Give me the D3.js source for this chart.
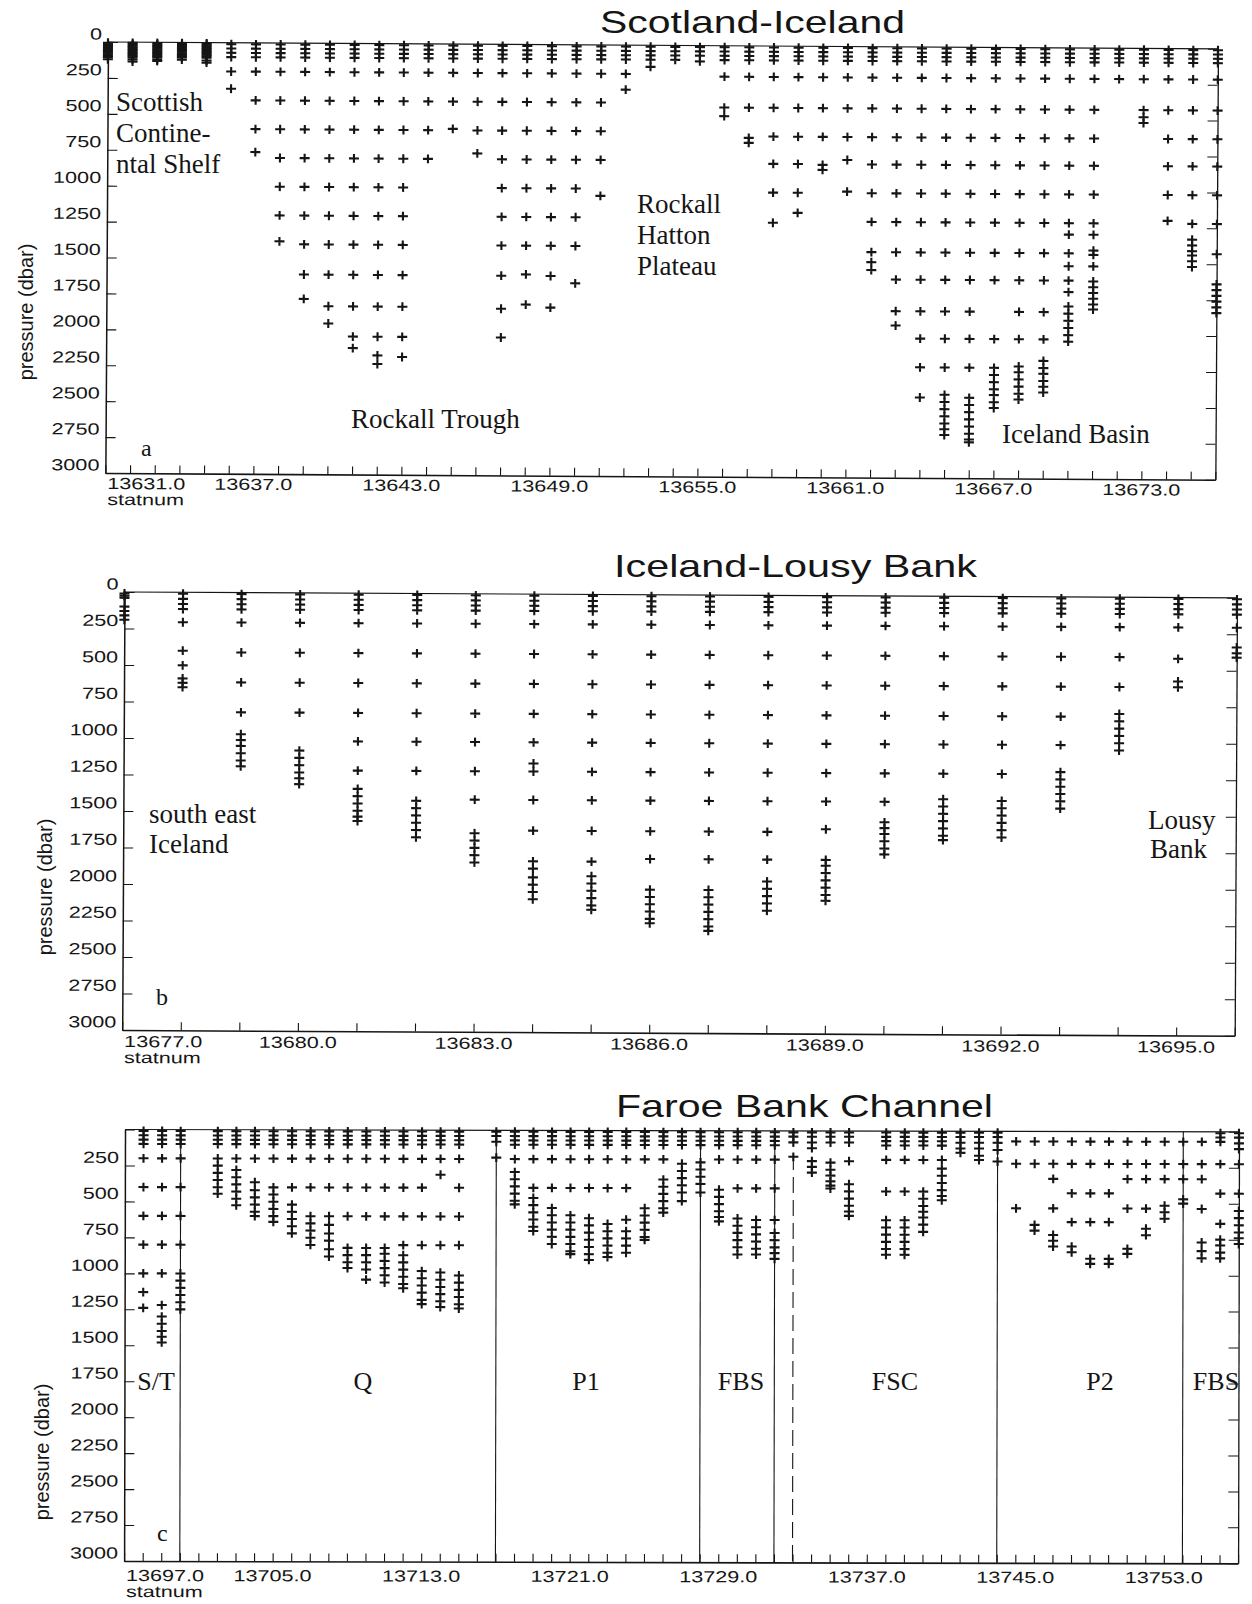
<!DOCTYPE html>
<html>
<head>
<meta charset="utf-8">
<script src="https://cdn.jsdelivr.net/npm/d3@7"></script>
<style>
body { margin: 0; background: #fff; }
.sans { font-family: "Liberation Sans", Arial, sans-serif; }
.serif { font-family: "Liberation Serif", "Times New Roman", serif; }
</style>
</head>
<body>
<svg id="chart" width="1252" height="1604"></svg>
<script>
// ---- data: station number and sampled pressures (dbar) per station ----
var pressureTicks = [0, 250, 500, 750, 1000, 1250, 1500, 1750, 2000, 2250, 2500, 2750, 3000];

// (a) Scotland-Iceland
var stationsA = [13631, 13632, 13633, 13634, 13635, 13636, 13637, 13638, 13639, 13640, 13641, 13642, 13643, 13644, 13645, 13646,
    13647, 13648, 13649, 13650, 13651, 13652, 13653, 13654, 13655, 13656, 13657, 13658, 13659, 13660, 13661, 13662,
    13663, 13664, 13665, 13666, 13667, 13668, 13669, 13670, 13671, 13672, 13673, 13674, 13675, 13676];
var pressuresA = [
    [5, 15, 25, 35, 45, 55, 65, 75, 85, 95, 105, 120],
    [5, 15, 25, 35, 45, 55, 65, 75, 85, 95, 105, 120, 135],
    [5, 15, 25, 35, 45, 55, 65, 75, 85, 95, 105, 120, 130],
    [5, 15, 25, 35, 45, 55, 65, 75, 85, 95, 105, 120],
    [5, 15, 25, 35, 45, 55, 65, 75, 85, 95, 105, 125, 140],
    [10, 40, 70, 100, 200, 320],
    [10, 40, 70, 100, 200, 400, 600, 760],
    [10, 40, 70, 100, 200, 400, 600, 800, 1000, 1200, 1380],
    [10, 40, 70, 100, 200, 400, 600, 800, 1000, 1200, 1400, 1610, 1780],
    [10, 40, 70, 100, 200, 400, 600, 800, 1000, 1200, 1400, 1610, 1830, 1950],
    [10, 40, 70, 100, 200, 400, 600, 800, 1000, 1200, 1400, 1610, 1830, 2040, 2120],
    [10, 40, 70, 100, 200, 400, 600, 800, 1000, 1200, 1400, 1610, 1830, 2040, 2170, 2230],
    [10, 40, 70, 100, 200, 400, 600, 800, 1000, 1200, 1400, 1610, 1830, 2040, 2180],
    [10, 40, 70, 100, 200, 400, 600, 800],
    [10, 40, 70, 100, 200, 400, 590],
    [10, 40, 70, 100, 200, 400, 600, 760],
    [10, 40, 70, 100, 200, 400, 600, 800, 1000, 1200, 1400, 1610, 1840, 2040],
    [10, 40, 70, 100, 200, 400, 600, 800, 1000, 1200, 1400, 1600, 1810],
    [10, 40, 70, 100, 200, 400, 600, 800, 1000, 1200, 1400, 1610, 1830],
    [10, 40, 70, 100, 200, 400, 600, 800, 1000, 1200, 1400, 1660],
    [10, 40, 70, 100, 200, 400, 600, 800, 1050],
    [10, 40, 70, 100, 200, 310],
    [10, 40, 70, 100, 150],
    [10, 40, 70, 100],
    [10, 40, 70, 110],
    [10, 40, 70, 100, 215, 430, 490],
    [10, 40, 70, 100, 215, 430, 640, 675],
    [10, 40, 70, 100, 215, 430, 630, 820, 1020, 1230],
    [10, 40, 70, 100, 215, 430, 630, 820, 1020, 1160],
    [10, 40, 70, 100, 215, 430, 630, 825, 860],
    [10, 40, 70, 100, 215, 430, 630, 790, 1010],
    [10, 40, 70, 100, 215, 430, 630, 820, 1020, 1220, 1430, 1500, 1555],
    [10, 40, 70, 100, 215, 430, 630, 820, 1020, 1220, 1430, 1620, 1840, 1940],
    [10, 40, 70, 100, 215, 430, 630, 820, 1020, 1220, 1430, 1620, 1840, 2030, 2230, 2440],
    [10, 40, 70, 100, 215, 430, 630, 820, 1020, 1220, 1430, 1620, 1840, 2030, 2230, 2420, 2470, 2520, 2570, 2620, 2660, 2700],
    [10, 40, 70, 100, 215, 430, 630, 820, 1020, 1220, 1430, 1620, 1840, 2030, 2230, 2440, 2490, 2540, 2590, 2640, 2690, 2730, 2750],
    [10, 40, 70, 100, 215, 430, 630, 820, 1020, 1220, 1430, 1620, 2030, 2230, 2280, 2330, 2380, 2420, 2470, 2510],
    [10, 40, 70, 100, 215, 430, 630, 820, 1020, 1220, 1430, 1620, 1840, 2030, 2220, 2260, 2310, 2360, 2410, 2450],
    [10, 40, 70, 100, 215, 430, 630, 820, 1020, 1220, 1430, 1620, 1840, 2030, 2180, 2230, 2270, 2320, 2360, 2400],
    [10, 40, 70, 100, 215, 430, 630, 820, 1020, 1220, 1300, 1430, 1520, 1620, 1700, 1800, 1850, 1900, 1950, 2000, 2045],
    [10, 40, 70, 100, 215, 430, 630, 820, 1020, 1220, 1300, 1410, 1440, 1520, 1625, 1665, 1705, 1745, 1785, 1820],
    [10, 40, 70, 100, 215],
    [10, 40, 70, 100, 215, 430, 480, 520],
    [10, 40, 70, 100, 215, 430, 630, 820, 1020, 1200],
    [10, 40, 70, 100, 215, 430, 630, 820, 1020, 1220, 1330, 1370, 1410, 1440, 1480, 1520],
    [10, 40, 70, 100, 215, 430, 630, 820, 1020, 1220, 1430, 1640, 1680, 1720, 1760, 1800, 1840]
];
var labelStationsA = [13631, 13637, 13643, 13649, 13655, 13661, 13667, 13673];

// (b) Iceland-Lousy Bank
var stationsB = [13677, 13678, 13679, 13680, 13681, 13682, 13683, 13684, 13685, 13686,
    13687, 13688, 13689, 13690, 13691, 13692, 13693, 13694, 13695, 13696];
var pressuresB = [
    [10, 25, 40, 100, 130, 160, 190],
    [10, 45, 80, 115, 205, 400, 500, 590, 620, 650],
    [10, 45, 80, 115, 205, 410, 615, 820, 970, 1010, 1050, 1100, 1150, 1190],
    [10, 45, 80, 115, 205, 410, 615, 820, 1080, 1130, 1180, 1230, 1270, 1310],
    [10, 45, 80, 115, 205, 410, 615, 820, 1015, 1215, 1340, 1390, 1440, 1490, 1530, 1560],
    [10, 45, 80, 115, 205, 410, 615, 820, 1015, 1215, 1420, 1470, 1520, 1570, 1620, 1670],
    [10, 45, 80, 115, 205, 410, 615, 820, 1015, 1215, 1410, 1640, 1690, 1740, 1790, 1840],
    [10, 45, 80, 115, 205, 410, 615, 820, 1015, 1160, 1215, 1410, 1620, 1830, 1880, 1940, 1990, 2040, 2090],
    [10, 45, 80, 115, 205, 410, 615, 820, 1015, 1215, 1410, 1620, 1830, 1930, 1980, 2030, 2080, 2130, 2160],
    [10, 45, 80, 115, 205, 410, 615, 820, 1015, 1215, 1410, 1620, 1810, 2020, 2070, 2120, 2170, 2220, 2250],
    [10, 45, 80, 115, 205, 410, 615, 820, 1015, 1215, 1410, 1620, 1810, 2020, 2070, 2120, 2170, 2220, 2270, 2300],
    [10, 45, 80, 115, 205, 410, 615, 820, 1015, 1215, 1410, 1620, 1810, 1960, 2010, 2060, 2110, 2160],
    [10, 45, 80, 115, 205, 410, 615, 820, 1015, 1215, 1410, 1600, 1810, 1850, 1900, 1950, 2000, 2050, 2090],
    [10, 45, 80, 115, 205, 410, 615, 820, 1015, 1215, 1410, 1550, 1590, 1630, 1680, 1730, 1770],
    [10, 45, 80, 115, 205, 410, 615, 820, 1015, 1215, 1390, 1440, 1490, 1540, 1590, 1640, 1670],
    [10, 45, 80, 115, 205, 410, 615, 820, 1015, 1215, 1400, 1450, 1500, 1550, 1600, 1650],
    [10, 45, 80, 115, 205, 410, 615, 820, 1015, 1200, 1250, 1300, 1350, 1400, 1450],
    [10, 45, 80, 115, 205, 410, 615, 800, 850, 900, 950, 1000, 1050],
    [10, 45, 80, 115, 205, 420, 575, 615],
    [10, 45, 80, 115, 205, 340, 380, 410]
];
var labelStationsB = [13677, 13680, 13683, 13686, 13689, 13692, 13695];

// (c) Faroe Bank Channel
var stationsC = [13698, 13699, 13700, 13702, 13703, 13704, 13705, 13706, 13707, 13708, 13709, 13710, 13711, 13712, 13713, 13714, 13715,
    13717, 13718, 13719, 13720, 13721, 13722, 13723, 13724, 13725, 13726, 13727, 13728,
    13729, 13730, 13731, 13732, 13733, 13734, 13735, 13736, 13738, 13739, 13740, 13741, 13742, 13743, 13744,
    13745, 13746, 13747, 13748, 13749, 13750, 13751, 13752, 13753, 13754, 13755, 13756, 13757];
var pressuresC = [
    [10, 40, 70, 100, 200, 400, 600, 800, 1000, 1130, 1240],
    [10, 40, 70, 100, 200, 400, 600, 800, 1000, 1220, 1300, 1350, 1400, 1440, 1480],
    [10, 40, 70, 100, 200, 400, 600, 800, 1000, 1050, 1100, 1150, 1200, 1250],
    [10, 40, 70, 100, 200, 250, 300, 350, 400, 445],
    [10, 40, 70, 100, 200, 280, 330, 380, 430, 480, 525],
    [10, 40, 70, 100, 200, 365, 420, 470, 520, 570, 600],
    [10, 40, 70, 100, 200, 400, 450, 500, 550, 600, 640],
    [10, 40, 70, 100, 200, 400, 520, 570, 620, 670, 720],
    [10, 40, 70, 100, 200, 400, 600, 650, 700, 750, 800],
    [10, 40, 70, 100, 200, 400, 600, 660, 720, 770, 830, 880],
    [10, 40, 70, 100, 200, 400, 600, 820, 870, 920, 960],
    [10, 40, 70, 100, 200, 400, 600, 820, 870, 920, 970, 1040],
    [10, 40, 70, 100, 200, 400, 600, 820, 860, 910, 960, 1010, 1060],
    [10, 40, 70, 100, 200, 400, 600, 800, 870, 920, 970, 1020, 1070, 1100],
    [10, 40, 70, 100, 200, 400, 600, 800, 980, 1030, 1080, 1130, 1180, 1210],
    [10, 40, 70, 100, 200, 310, 600, 800, 990, 1040, 1090, 1140, 1190, 1230],
    [10, 40, 70, 100, 200, 400, 600, 800, 1010, 1060, 1110, 1160, 1210, 1240],
    [10, 40, 80, 190],
    [10, 40, 70, 100, 200, 290, 340, 390, 440, 490, 515],
    [10, 40, 70, 100, 200, 400, 470, 520, 570, 620, 670, 700],
    [10, 40, 70, 100, 200, 400, 540, 590, 640, 690, 740, 790],
    [10, 40, 70, 100, 200, 400, 590, 640, 690, 740, 790, 840, 860],
    [10, 40, 70, 100, 200, 400, 610, 660, 710, 760, 810, 860, 900],
    [10, 40, 70, 100, 200, 400, 650, 700, 750, 800, 850, 880],
    [10, 40, 70, 100, 200, 400, 620, 700, 750, 800, 850],
    [10, 40, 70, 100, 200, 540, 590, 640, 690, 740, 760],
    [10, 40, 70, 100, 200, 340, 390, 440, 490, 540, 570],
    [10, 40, 70, 100, 230, 280, 330, 380, 430, 490],
    [10, 40, 70, 100, 220, 270, 320, 370, 430],
    [10, 40, 70, 100, 200, 410, 460, 510, 560, 600, 630],
    [10, 40, 70, 100, 200, 400, 610, 660, 710, 760, 810, 860],
    [10, 40, 70, 100, 200, 400, 620, 670, 720, 770, 820, 860],
    [10, 40, 70, 100, 200, 400, 620, 710, 760, 810, 850, 890],
    [10, 40, 80, 180],
    [10, 40, 80, 120, 210, 250, 290],
    [10, 40, 80, 220, 270, 310, 350, 380, 400],
    [10, 40, 80, 210, 370, 420, 470, 520, 560, 590],
    [10, 40, 70, 100, 200, 420, 620, 670, 720, 770, 820, 860],
    [10, 40, 70, 100, 200, 420, 620, 670, 720, 770, 820, 860],
    [10, 40, 70, 100, 200, 420, 470, 520, 560, 600, 650, 700],
    [10, 40, 70, 100, 200, 260, 310, 360, 410, 450, 480],
    [10, 40, 80, 120, 150],
    [10, 40, 80, 120, 170, 200],
    [10, 40, 80, 130, 210],
    [70, 225, 535],
    [70, 225, 650, 690],
    [70, 225, 330, 535, 720, 760, 800],
    [70, 225, 430, 630, 800, 840],
    [70, 225, 430, 630, 885, 920],
    [70, 225, 430, 630, 885, 920],
    [70, 225, 330, 535, 815, 850],
    [70, 225, 330, 535, 675, 720],
    [70, 225, 330, 515, 560, 605],
    [70, 225, 330, 470, 500],
    [70, 225, 330, 537, 770, 830, 880],
    [10, 40, 70, 225, 430, 640, 750, 790, 840, 880],
    [10, 40, 80, 120, 225, 430, 550, 600, 650, 700, 740, 780]
];
var labelStationsC = [13697, 13705, 13713, 13721, 13729, 13737, 13745, 13753];
var sectionLinesC = [13700, 13717, 13728, 13732, 13744, 13754];
var dashedLinesC = [13733];
var sectionNamesC = ["S/T", "Q", "P1", "FBS", "FSC", "P2", "FBS"];
var sectionNameX = [156, 363, 586, 741, 895, 1100, 1216];

var svg = d3.select("#chart");
var ink = "#151515";

//------------------------------------------------------------------
function drawPanel(p) {
    var g = svg.append("g").attr("transform", "rotate(" + p.rot + "," + p.x0 + "," + p.y0 + ")");
    var x = d3.scaleLinear().domain(p.dom).range([p.x0, p.x1]);
    var y = d3.scaleLinear().domain([0, 3000]).range([p.y0, p.y1]);

    // frame top
    g.append("line").attr("x1", p.x0).attr("x2", p.x1).attr("y1", p.y0).attr("y2", p.y0)
            .attr("stroke", ink).attr("stroke-width", 1.2);

    var left = g.append("g").attr("transform", "translate(" + p.x0 + ",0)")
            .call(d3.axisLeft(y).tickValues(pressureTicks).tickSize(-10).tickSizeOuter(0).tickPadding(6)
                .tickFormat(function (d) { return (d === 0 && !p.zero) ? "" : d; }));
    left.attr("font-family", null).attr("font-size", null);
    left.select(".domain").attr("stroke", ink).attr("stroke-width", 1.5);
    left.selectAll(".tick line").attr("stroke", ink).attr("stroke-width", 1.1);
    left.selectAll(".tick text").attr("dy", null).attr("y", -3).attr("class", "sans stretch")
            .attr("fill", ink).style("font-size", "16px");

    var right = g.append("g").attr("transform", "translate(" + p.x1 + ",0)")
            .call(d3.axisRight(y).tickValues(pressureTicks).tickSize(-10).tickSizeOuter(0).tickFormat(""));
    right.select(".domain").attr("stroke", ink).attr("stroke-width", 1.3);
    right.selectAll(".tick line").attr("stroke", ink).attr("stroke-width", 1);

    var bottom = g.append("g").attr("transform", "translate(0," + p.y1 + ")")
            .call(d3.axisBottom(x).tickValues(d3.range(p.dom[0], p.dom[1] + 1)).tickSize(-8).tickSizeOuter(0).tickFormat(""));
    bottom.select(".domain").attr("stroke", ink).attr("stroke-width", 1.6);
    bottom.selectAll(".tick line").attr("stroke", ink).attr("stroke-width", 1.1);

    // station labels
    g.selectAll("text.xl").data(p.labels).enter().append("text")
            .attr("class", "sans stretch")
            .attr("x", function (d, i) { return i === 0 ? p.x0 + 2 : x(d); })
            .attr("y", p.y1 + p.labelDy)
            .attr("text-anchor", function (d, i) { return i === 0 ? "start" : "middle"; })
            .attr("fill", ink).style("font-size", "16px")
            .text(function (d) { return d.toFixed(1); });
    g.append("text").attr("class", "sans stretch").attr("x", p.x0 + 2).attr("y", p.y1 + p.statDy)
            .attr("fill", ink).style("font-size", "16px").text("statnum");

    // section boundaries
    (p.sections || []).forEach(function (s) {
        g.append("line").attr("x1", x(s)).attr("x2", x(s)).attr("y1", p.y0).attr("y2", p.y1)
                .attr("stroke", ink).attr("stroke-width", 1.1);
    });
    (p.dashed || []).forEach(function (s) {
        g.append("line").attr("x1", x(s)).attr("x2", x(s)).attr("y1", p.y0).attr("y2", p.y1)
                .attr("stroke", ink).attr("stroke-width", 1.1).attr("stroke-dasharray", "16,7");
    });

    // sample markers
    var pts = [];
    p.stations.forEach(function (s, i) {
        p.pressures[i].forEach(function (pr) { pts.push({s: s, p: pr}); });
    });
    g.append("g").selectAll("path").data(pts).enter().append("path")
            .attr("d", function (d) {
                var cx = x(d.s), cy = y(d.p);
                return "M" + (cx - 5) + "," + cy + "h10M" + cx + "," + (cy - 4.4) + "v8.8";
            })
            .attr("stroke", ink).attr("stroke-width", 2.1).attr("fill", "none");

    // y label
    svg.append("text").attr("class", "sans")
            .attr("transform", "translate(" + p.ylab[0] + "," + p.ylab[1] + ") rotate(-90)")
            .attr("text-anchor", "middle").attr("fill", ink).style("font-size", "20px")
            .text("pressure (dbar)");

    // title
    svg.append("text").attr("class", "sans").attr("x", p.title[1]).attr("y", p.title[2])
            .attr("fill", ink).style("font-size", "32px")
            .attr("textLength", p.title[3]).attr("lengthAdjust", "spacingAndGlyphs")
            .text(p.title[0]);

    // annotations
    p.notes.forEach(function (n) {
        svg.append("text").attr("class", "serif").attr("x", n[1]).attr("y", n[2])
                .attr("text-anchor", n[4] || "start")
                .attr("fill", ink).style("font-size", (n[3] || 27) + "px").text(n[0]);
    });
}

drawPanel({
    stations: stationsA, pressures: pressuresA, dom: [13631, 13676],
    x0: 108, x1: 1218, y0: 42, y1: 473, rot: 0.35, zero: true,
    labels: labelStationsA, labelDy: 16, statDy: 32,
    ylab: [33, 312], title: ["Scotland-Iceland", 600, 33, 305],
    notes: [["Scottish", 116, 111], ["Contine-", 116, 142], ["ntal Shelf", 116, 173],
        ["Rockall", 637, 213], ["Hatton", 637, 244], ["Plateau", 637, 275],
        ["Rockall Trough", 351, 428], ["Iceland Basin", 1002, 443], ["a", 141, 456, 24]]
});

drawPanel({
    stations: stationsB, pressures: pressuresB, dom: [13677, 13696],
    x0: 124.5, x1: 1237, y0: 592, y1: 1030, rot: 0.3, zero: true,
    labels: labelStationsB, labelDy: 17, statDy: 33,
    ylab: [52, 887], title: ["Iceland-Lousy Bank", 614, 577, 363],
    notes: [["south east", 149, 823], ["Iceland", 149, 853],
        ["Lousy", 1148, 829], ["Bank", 1150, 858], ["b", 156, 1005, 24]]
});

var notesC = sectionNamesC.map(function (t, i) { return [t, sectionNameX[i], 1390, 26, "middle"]; });
notesC.push(["c", 157, 1541, 24]);
drawPanel({
    stations: stationsC, pressures: pressuresC, dom: [13697, 13757],
    x0: 125, x1: 1239, y0: 1129.5, y1: 1561, rot: 0.12, zero: false,
    labels: labelStationsC, labelDy: 20, statDy: 36,
    ylab: [49, 1452], title: ["Faroe Bank Channel", 616, 1117, 377],
    sections: sectionLinesC, dashed: dashedLinesC,
    notes: notesC
});

// axis numbers in the scan are wide; stretch them horizontally
svg.selectAll("text.stretch").each(function () {
    var w = this.getComputedTextLength();
    d3.select(this).attr("textLength", w * 1.35).attr("lengthAdjust", "spacingAndGlyphs");
});
</script>
</body>
</html>
